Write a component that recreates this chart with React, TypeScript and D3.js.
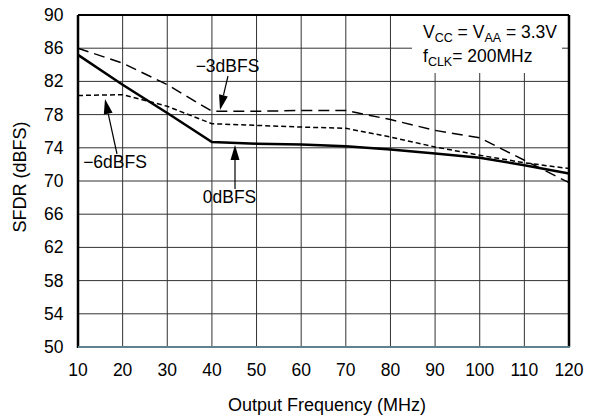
import React from "react";
import * as d3 from "d3";

const freqs = [10, 20, 30, 40, 50, 60, 70, 80, 90, 100, 110, 120];
const sfdr0 = [85.2, 81.6, 78.2, 74.7, 74.5, 74.4, 74.2, 73.8, 73.3, 72.8, 71.9, 70.9];
const sfdr3 = [86.0, 84.2, 81.6, 78.4, 78.4, 78.5, 78.5, 77.4, 76.1, 75.2, 72.5, 69.8];
const sfdr6 = [80.3, 80.4, 79.0, 76.9, 76.7, 76.5, 76.35, 75.3, 74.1, 73.1, 72.2, 71.5];
const xTicks = [10, 20, 30, 40, 50, 60, 70, 80, 90, 100, 110, 120];
const yTicks = [50, 54, 58, 62, 66, 70, 74, 78, 82, 86, 90];

const W = 589, H = 417;
const L = 78, R = 569, T = 15, B = 347;
const FONT = "Arial, 'Liberation Sans', Helvetica, sans-serif";
const FS = 17.5;

export default function App() {
  const x = d3.scaleLinear().domain([10, 120]).range([L, R]);
  const y = d3.scaleLinear().domain([50, 90]).range([B, T]);
  const line = d3.line<number>().x((_, i) => x(freqs[i])).y((d) => y(d));

  const arrow = (x1: number, y1: number, x2: number, y2: number, key: string) => {
    const ang = Math.atan2(y2 - y1, x2 - x1);
    const len = 15, hw = 4.5;
    const bx = x2 - len * Math.cos(ang), by = y2 - len * Math.sin(ang);
    const px = -Math.sin(ang) * hw, py = Math.cos(ang) * hw;
    return (
      <g key={key}>
        <line x1={x1} y1={y1} x2={bx} y2={by} stroke="#000" strokeWidth={1.2} />
        <polygon points={`${x2},${y2} ${bx + px},${by + py} ${bx - px},${by - py}`} fill="#000" />
      </g>
    );
  };

  return (
    <svg width={W} height={H} style={{ position: "absolute", left: 0, top: 0, background: "#fff" }} fontFamily={FONT}>
      <rect x={0} y={0} width={W} height={H} fill="#fff" />
      {xTicks.map((t) => (
        <line key={"gx" + t} x1={x(t)} x2={x(t)} y1={T} y2={B} stroke="#333" strokeWidth={1} />
      ))}
      {yTicks.map((t) => (
        <line key={"gy" + t} x1={L} x2={R} y1={y(t)} y2={y(t)} stroke="#333" strokeWidth={1} />
      ))}
      <rect x={412} y={T + 1} width={150} height={57} fill="#fff" />
      <text x={423} y={38} fontSize={FS} fill="#000">
        V<tspan fontSize={12.5} dy={4}>CC</tspan>
        <tspan dy={-4}> = V</tspan>
        <tspan fontSize={12.5} dy={4}>AA</tspan>
        <tspan dy={-4}> = 3.3V</tspan>
      </text>
      <text x={423} y={62} fontSize={FS} fill="#000">
        f<tspan fontSize={12.5} dy={4}>CLK</tspan>
        <tspan dy={-4}>= 200MHz</tspan>
      </text>
      <path d={line(sfdr3) || ""} fill="none" stroke="#000" strokeWidth={1.5} strokeDasharray="11,6" />
      <path d={line(sfdr6) || ""} fill="none" stroke="#000" strokeWidth={1.5} strokeDasharray="5,3" />
      <path d={line(sfdr0) || ""} fill="none" stroke="#000" strokeWidth={2.5} />
      <line x1={L} x2={R} y1={T} y2={T} stroke="#000" strokeWidth={2} />
      <line x1={R} x2={R} y1={T} y2={B} stroke="#000" strokeWidth={2.5} />
      <line x1={L} x2={L} y1={T} y2={B + 1} stroke="#000" strokeWidth={2.5} />
      <line x1={L} x2={R + 1} y1={B} y2={B} stroke="#5f8290" strokeWidth={2} />
      <text x={227.5} y={72} fontSize={FS} textAnchor="middle">−3dBFS</text>
      {arrow(228, 76, 220, 110, "a3")}
      <text x={115} y={168} fontSize={FS} textAnchor="middle">−6dBFS</text>
      {arrow(117, 154, 105, 99, "a6")}
      <text x={229.5} y={203} fontSize={FS} textAnchor="middle">0dBFS</text>
      {arrow(235, 189, 235, 145, "a0")}
      {yTicks.map((t) => (
        <text key={"yl" + t} x={63.5} y={y(t) + 6} fontSize={FS} textAnchor="end">{t}</text>
      ))}
      {xTicks.map((t) => (
        <text key={"xl" + t} x={x(t)} y={376} fontSize={FS} textAnchor="middle">{t}</text>
      ))}
      <text x={327} y={411} fontSize={18} textAnchor="middle">Output Frequency (MHz)</text>
      <text transform="translate(26,177) rotate(-90)" fontSize={18} textAnchor="middle">SFDR (dBFS)</text>
    </svg>
  );
}
